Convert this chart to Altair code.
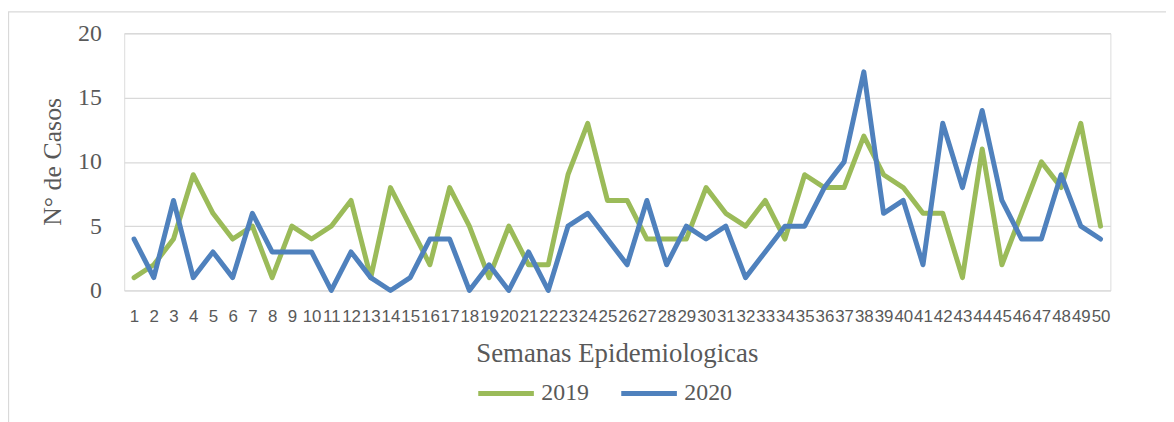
import altair as alt
import pandas as pd

weeks = list(range(1, 51))
cases_2019 = [1, 2, 4, 9, 6, 4, 5, 1, 5, 4,
              5, 7, 1, 8, 5, 2, 8, 5, 1, 5,
              2, 2, 9, 13, 7, 7, 4, 4, 4, 8,
              6, 5, 7, 4, 9, 8, 8, 12, 9, 8,
              6, 6, 1, 11, 2, 6, 10, 8, 13, 5]
cases_2020 = [4, 1, 7, 1, 3, 1, 6, 3, 3, 3,
              0, 3, 1, 0, 1, 4, 4, 0, 2, 0,
              3, 0, 5, 6, 4, 2, 7, 2, 5, 4,
              5, 1, 3, 5, 5, 8, 10, 17, 6, 7,
              2, 13, 8, 14, 7, 4, 4, 9, 5, 4]
years = ["2019", "2020"]
colors = ["#9BBB59", "#4F81BD"]
y_ticks = [0, 5, 10, 15, 20]

rows = []
for w, a, b in zip(weeks, cases_2019, cases_2020):
    rows.append({"semana": w, "anio": years[0], "casos": a})
    rows.append({"semana": w, "anio": years[1], "casos": b})
df = pd.DataFrame(rows)

TXT = "#595959"
SERIF = "Liberation Serif"
SANS = "Liberation Sans"

lines = alt.Chart(df).mark_line(strokeWidth=5, strokeCap="round", strokeJoin="round").encode(
    x=alt.X("semana:O", sort=weeks, scale=alt.Scale(type="point", padding=0.5),
            axis=alt.Axis(title="Semanas Epidemiologicas", labelAngle=0, labelOverlap=False,
                          labelFont=SANS, labelFontSize=17, labelColor=TXT,
                          labelPadding=18, ticks=False, tickSize=0, domain=False, grid=False,
                          titleFont=SERIF, titleFontSize=27, titleFontWeight="normal",
                          titleColor=TXT, titleX=496, titleY=64, titleAlign="center",
                          titleBaseline="middle")),
    y=alt.Y("casos:Q", scale=alt.Scale(domain=[0, 20], nice=False),
            axis=alt.Axis(values=y_ticks, grid=True, gridColor="#D9D9D9", gridWidth=1.3,
                          domain=False, ticks=False, tickSize=0,
                          labelFont=SERIF, labelFontSize=24, labelColor=TXT, labelPadding=23,
                          title="N° de Casos", titleFont=SERIF, titleFontSize=26,
                          titleFontWeight="normal", titleColor=TXT, titleX=-72, titleY=129,
                          titleAngle=270, titleAlign="center", titleBaseline="middle")),
    color=alt.Color("anio:N", scale=alt.Scale(domain=years, range=colors),
                    legend=alt.Legend(title=None, orient="none", legendX=354, legendY=332,
                                      direction="horizontal", symbolType="stroke",
                                      symbolSize=3136, symbolStrokeWidth=5,
                                      labelFont=SERIF, labelFontSize=24, labelColor=TXT,
                                      labelOffset=5, columnPadding=22)),
)

frame = alt.Chart(alt.Data(values=[{}])).mark_rect(
    filled=False, stroke="#D9D9D9", strokeWidth=1.3
).encode(
    x=alt.value(-116.5), x2=alt.value(3000), y=alt.value(-21.5), y2=alt.value(3000)
)

chart = alt.layer(frame, lines).properties(
    width=993, height=259,
    padding={"left": 117, "top": 24, "right": 56, "bottom": 131},
    autosize=alt.AutoSizeParams(type="none"),
).configure_view(stroke=None).configure(background="white")

chart.save("out.html", embed_options={"renderer": "svg", "actions": False})
